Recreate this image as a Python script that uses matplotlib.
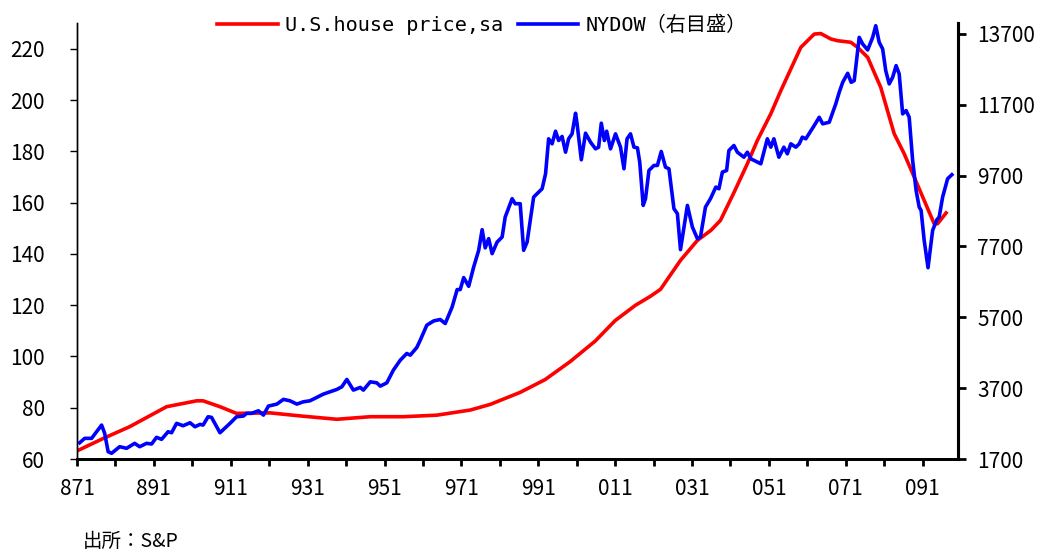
import matplotlib
matplotlib.use("Agg")
import matplotlib.pyplot as plt

plt.rcParams['font.family'] = ['Noto Sans CJK JP', 'DejaVu Sans']

# Case-Shiller style house price index (left axis), x in decimal years
house_t = [1987.02, 1987.68, 1988.37, 1989.33, 1990.11, 1990.28, 1990.72, 1991.15,
           1992.02, 1992.88, 1993.76, 1994.63, 1995.49, 1996.36, 1997.23, 1997.75,
           1998.53, 1999.18, 1999.83, 2000.48, 2001.00, 2001.53, 2001.92, 2002.18,
           2002.70, 2003.14, 2003.49, 2003.74, 2004.08, 2004.44, 2004.70, 2005.05,
           2005.31, 2005.83, 2006.18, 2006.35, 2006.61, 2006.79, 2007.13, 2007.31,
           2007.57, 2007.91, 2008.26, 2008.52, 2008.78, 2009.04, 2009.30, 2009.39,
           2009.61]
house_v = [63.3, 68.0, 72.6, 80.4, 82.7, 82.7, 80.4, 77.8,
           78.0, 76.7, 75.5, 76.5, 76.5, 77.1, 79.1, 81.3,
           86.0, 91.0, 98.0, 106.0, 114.0, 120.0, 123.5, 126.2,
           137.5, 145.3, 149.2, 153.1, 163.6, 175.2, 184.3, 194.7,
           203.7, 220.6, 225.8, 226.0, 223.9, 223.2, 222.6, 220.6,
           216.7, 205.0, 186.9, 179.1, 170.0, 160.9, 151.8, 151.8,
           156.0]

# NY Dow (right axis)
dow_t = [1987.07, 1987.20, 1987.38, 1987.64, 1987.72, 1987.81, 1987.90, 1988.11,
         1988.29, 1988.50, 1988.63, 1988.81, 1988.94, 1989.07, 1989.20, 1989.37,
         1989.46, 1989.59, 1989.76, 1989.94, 1990.07, 1990.20, 1990.28, 1990.41,
         1990.50, 1990.72, 1990.98, 1991.15, 1991.33, 1991.41, 1991.54, 1991.72,
         1991.85, 1991.98, 1992.20, 1992.37, 1992.54, 1992.72, 1992.89, 1993.06,
         1993.24, 1993.41, 1993.58, 1993.76, 1993.89, 1994.02, 1994.19, 1994.37,
         1994.45, 1994.63, 1994.80, 1994.89, 1995.06, 1995.23, 1995.41, 1995.58,
         1995.67, 1995.84, 1995.93, 1996.10, 1996.28, 1996.45, 1996.58, 1996.76,
         1996.89, 1996.97, 1997.06, 1997.19, 1997.32, 1997.45, 1997.54, 1997.62,
         1997.71, 1997.80, 1997.93, 1998.06, 1998.14, 1998.32, 1998.40, 1998.53,
         1998.62, 1998.71, 1998.88, 1999.01, 1999.10, 1999.19, 1999.27, 1999.36,
         1999.45, 1999.53, 1999.62, 1999.71, 1999.79, 1999.88, 1999.97, 2000.01,
         2000.12, 2000.23, 2000.36, 2000.49, 2000.57, 2000.64, 2000.72, 2000.78,
         2000.88, 2001.01, 2001.14, 2001.23, 2001.31, 2001.40, 2001.49, 2001.58,
         2001.64, 2001.73, 2001.79, 2001.88, 2002.01, 2002.10, 2002.20, 2002.31,
         2002.40, 2002.53, 2002.62, 2002.70, 2002.88, 2003.01, 2003.14, 2003.22,
         2003.35, 2003.48, 2003.62, 2003.70, 2003.79, 2003.90, 2003.96, 2004.09,
         2004.18, 2004.35, 2004.44, 2004.53, 2004.79, 2004.96, 2005.05, 2005.13,
         2005.26, 2005.39, 2005.48, 2005.57, 2005.70, 2005.79, 2005.87, 2005.96,
         2006.18, 2006.31, 2006.40, 2006.57, 2006.74, 2006.83, 2006.92, 2007.05,
         2007.14, 2007.22, 2007.35, 2007.44, 2007.57, 2007.70, 2007.78, 2007.87,
         2007.96, 2008.04, 2008.13, 2008.22, 2008.31, 2008.39, 2008.48, 2008.57,
         2008.65, 2008.74, 2008.83, 2008.91, 2008.96, 2009.04, 2009.14, 2009.26,
         2009.37, 2009.43, 2009.52, 2009.65, 2009.76]
dow_v = [2159, 2283, 2283, 2658, 2424, 1906, 1861, 2047,
         2002, 2142, 2047, 2142, 2123, 2312, 2255, 2470,
         2441, 2706, 2639, 2723, 2610, 2678, 2658, 2892,
         2875, 2441, 2706, 2892, 2912, 2988, 2988, 3061,
         2940, 3194, 3250, 3383, 3343, 3250, 3315, 3343,
         3439, 3532, 3597, 3664, 3738, 3946, 3645, 3721,
         3645, 3879, 3850, 3757, 3850, 4208, 4490, 4679,
         4631, 4848, 5054, 5477, 5598, 5638, 5525, 5993,
         6483, 6483, 6821, 6576, 7120, 7591, 8174, 7660,
         7921, 7498, 7825, 7966, 8530, 9048, 8907, 8907,
         7591, 7825, 9094, 9235, 9329, 9752, 10739, 10598,
         10954, 10691, 10804, 10361, 10739, 10879, 11461, 11162,
         10147, 10898, 10644, 10456, 10503, 11180, 10691, 10954,
         10456, 10879, 10503, 9893, 10739, 10879, 10503, 10485,
         10080, 8859, 9048, 9846, 9987, 9987, 10381, 9939,
         9893, 8766, 8625, 7611, 8859, 8247, 7921, 7966,
         8812, 9048, 9376, 9329, 9798, 9846, 10409, 10550,
         10361, 10220, 10361, 10175, 10034, 10739, 10503, 10739,
         10220, 10503, 10316, 10598, 10503, 10598, 10785, 10739,
         11114, 11348, 11162, 11207, 11725, 12052, 12334, 12588,
         12334, 12382, 13603, 13416, 13247, 13603, 13932, 13462,
         13275, 12664, 12289, 12475, 12805, 12570, 11443, 11536,
         11348, 10127, 9282, 8812, 8718, 7873, 7100, 8154,
         8456, 8530, 9094, 9612, 9725]

tick_years = list(range(1987, 2010))
tick_labels = ['%02d1' % (y % 100) if (y - 1987) % 2 == 0 else '' for y in tick_years]
left_ticks = list(range(60, 221, 20))
right_ticks = list(range(1700, 13701, 2000))

fig = plt.figure(figsize=(10.37, 5.53), dpi=100)
fig.subplots_adjust(left=77 / 1037, right=958 / 1037, bottom=1 - 459 / 553, top=1 - 23.3 / 553)
ax = fig.add_subplot(111)
ax2 = ax.twinx()

l1, = ax.plot(house_t, house_v, color='#ff0000', lw=2.6, solid_joinstyle='round')
l2, = ax2.plot(dow_t, dow_v, color='#0000ff', lw=2.6, solid_joinstyle='round')

ax.set_xlim(1987.0, 2009.92)
ax.set_ylim(60, 230)
ax2.set_ylim(1700, 14000)

ax.set_xticks(tick_years)
ax.set_xticklabels(tick_labels)
ax.set_yticks(left_ticks)
ax2.set_yticks(right_ticks)

for a in (ax, ax2):
    a.spines['top'].set_visible(False)
    a.spines['left'].set_linewidth(1.0)
    a.spines['bottom'].set_linewidth(2.0)
    a.spines['right'].set_linewidth(2.2)

ax.tick_params(axis='x', direction='out', length=5, width=2, labelsize=15, pad=9)
ax.tick_params(axis='y', direction='out', length=5, width=1, labelsize=15, pad=18)
ax2.tick_params(axis='y', direction='out', length=6, width=2, labelsize=15, pad=8)

fig.legend([l1, l2], ['U.S.house price,sa', 'NYDOW（右目盛）'],
           loc='center', bbox_to_anchor=(482 / 1037, 1 - 25 / 553), ncol=2,
           frameon=False, handlelength=3.0, handletextpad=0.35, columnspacing=0.75,
           prop={'family': ['DejaVu Sans Mono', 'Noto Sans CJK JP'], 'size': 14.5})

fig.text(83 / 1037, 1 - 541 / 553, '出所：S&P', fontsize=14, va='center', ha='left')

fig.savefig('out.png', dpi=100, facecolor='white')
